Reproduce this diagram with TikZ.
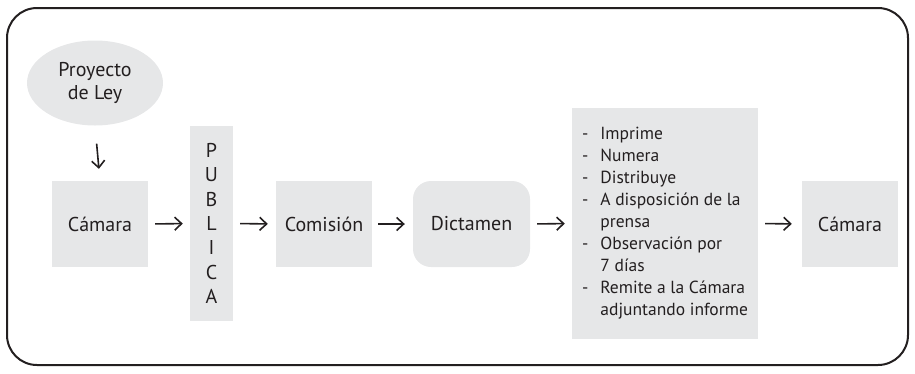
\documentclass[tikz,border=0pt]{standalone}
\usepackage{fontspec}
\setmainfont{PT Sans}
\usetikzlibrary{arrows.meta,shapes.geometric}
\definecolor{boxgray}{HTML}{E6E7E8}
\definecolor{ink}{HTML}{231F20}
\begin{document}
\begin{tikzpicture}[x=1pt,y=-1pt,
  font=\fontsize{20}{23}\selectfont,
  text=ink,
  box/.style={fill=boxgray,inner sep=0pt,align=center},
  flow/.style={draw=ink,line width=1.6pt,-{Straight Barb[length=7pt,width=13pt,line width=1.6pt]}}]
\useasboundingbox (0,0) rectangle (915,373);
% outer frame
\draw[ink,line width=2pt,rounded corners=30pt] (7,8) rectangle (908,365);
% nodes
\node[box,ellipse,minimum width=136pt,minimum height=85pt] (ley) at (95,83) {Proyecto\\de Ley};
\node[box,minimum width=96pt,minimum height=86pt] (cam1) at (100,224) {Cámara};
\node[box,minimum width=43pt,minimum height=195pt,font=\fontsize{20}{24.3}\selectfont] (pub) at (211.5,223.5) {P\\U\\B\\L\\I\\C\\A};
\node[box,minimum width=96pt,minimum height=86pt] (com) at (324,224) {Comisión};
\node[box,rounded corners=18pt,minimum width=117pt,minimum height=86pt] (dic) at (471.5,224) {Dictamen};
\node[box,minimum width=186pt,minimum height=231pt,align=left,font=\fontsize{17.5}{22}\selectfont] (lst) at (665,223.5) {%
  \begin{tabular}{@{}l@{\hspace{12pt}}l@{}}
  - & Imprime\\
  - & Numera\\
  - & Distribuye\\
  - & A disposición de la\\
    & prensa\\
  - & Observación por\\
    & 7 días\\
  - & Remite a la Cámara\\
    & adjuntando informe
  \end{tabular}};
\node[box,minimum width=96pt,minimum height=86pt] (cam2) at (850,224) {Cámara};
% connectors
\draw[flow,shorten <=18pt,shorten >=12pt] (ley.south) -- (cam1.north);
\draw[flow,shorten <=7pt,shorten >=7pt] (cam1.east) -- (pub.west);
\draw[flow,shorten <=7pt,shorten >=8pt] (pub.east) -- (com.west);
\draw[flow,shorten <=6pt,shorten >=8pt] (com.east) -- (dic.west);
\draw[flow,shorten <=7pt,shorten >=7pt] (dic.east) -- (lst.west);
\draw[flow,shorten <=7pt,shorten >=10pt] (lst.east) -- (cam2.west);
\end{tikzpicture}
\end{document}
